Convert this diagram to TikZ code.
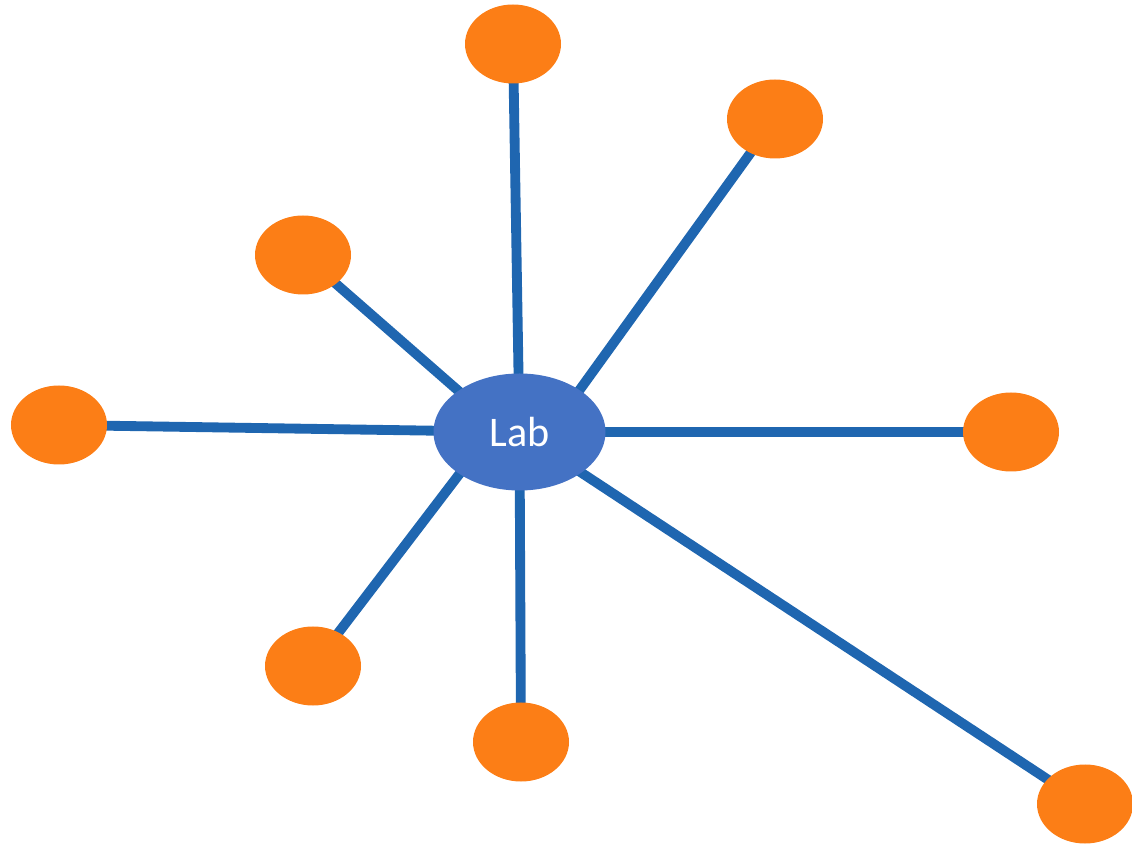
\documentclass[tikz,border=0pt]{standalone}
\usepackage{fontspec}
\setmainfont{Carlito}
\usetikzlibrary{shapes.geometric,backgrounds}
\definecolor{labblue}{HTML}{4472C4}
\definecolor{spokeblue}{HTML}{1F66B0}
\definecolor{leaforange}{HTML}{FC7E16}
\begin{document}
\begin{tikzpicture} [x = 0.25mm, y = -0.25mm,
		hub/.style = {ellipse, fill = labblue, inner sep = 0pt, minimum width = 43mm, minimum height = 29.25mm, text = white, font = \fontsize{30}{36}\selectfont},
		leaf/.style = {ellipse, fill = leaforange, inner sep = 0pt, minimum width = 24mm, minimum height = 19.75mm},
		spoke/.style = {draw = spokeblue, line width = 7pt, shorten > = -8pt}]
			\useasboundingbox (0,0) rectangle (1132,846);
			
			\node [hub] (lab) at (519.5,432) {Lab};
			
			\node [leaf] (top) at (513,44) {};
			\node [leaf] (topright) at (775,119) {};
			\node [leaf] (upleft) at (303,255) {};
			\node [leaf] (left) at (59,425) {};
			\node [leaf] (right) at (1011,432) {};
			\node [leaf] (lowleft) at (313,666) {};
			\node [leaf] (bottom) at (521,742) {};
			\node [leaf] (lowright) at (1085,804) {};
			
			\begin{scope}[on background layer]
			\foreach \n in {top,left,right,bottom,lowright}
				\draw [spoke] (\n.center) to (lab.center) ;
			\draw [spoke] (topright.center) to (lab.35) ;
			\draw [spoke] (upleft.center) to (lab.146) ;
			\draw [spoke] (lowleft.center) to (lab.215) ;
			\end{scope}
		\end{tikzpicture}
\end{document}
